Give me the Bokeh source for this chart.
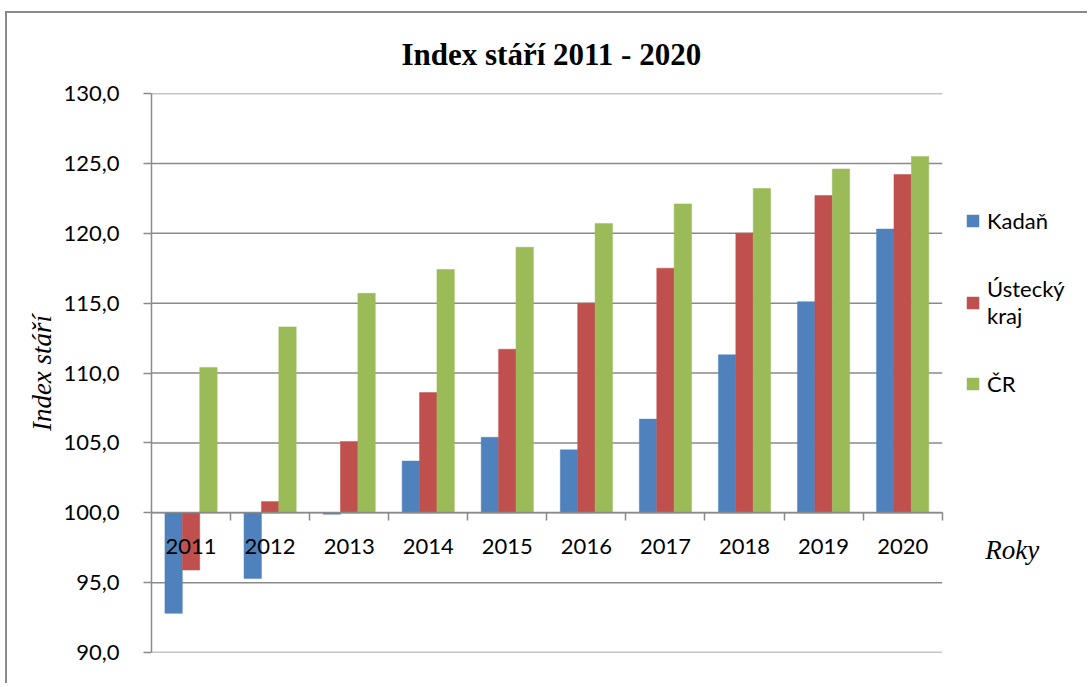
from bokeh.plotting import figure
from bokeh.models import (ColumnDataSource, Range1d, LinearAxis, FixedTicker,
                          Legend, LegendItem, Label)
from bokeh.transform import dodge
from bokeh.embed import file_html
from bokeh.resources import INLINE

# ---- data ----
years = ["2011", "2012", "2013", "2014", "2015", "2016", "2017", "2018", "2019", "2020"]
kadan = [92.8, 95.3, 99.9, 103.7, 105.4, 104.5, 106.7, 111.3, 115.1, 120.3]
ustecky = [95.9, 100.8, 105.1, 108.6, 111.7, 115.0, 117.5, 120.0, 122.7, 124.2]
cr = [110.4, 113.3, 115.7, 117.4, 119.0, 120.7, 122.1, 123.2, 124.6, 125.5]
series_names = ["Kadaň", "Ústecký\nkraj", "ČR"]
colors = ["#4F81BD", "#C0504D", "#9BBB59"]
y_ticks = [90, 95, 100, 105, 110, 115, 120, 125, 130]
y_tick_labels = ["90,0", "95,0", "100,0", "105,0", "110,0", "115,0", "120,0", "125,0", "130,0"]
baseline = 100
title_text = "Index stáří 2011 - 2020"
x_title = "Roky"
y_title = "Index stáří"

GRAY = "#8a8a8a"
SANS = "Lato"
SERIF = "Liberation Serif"

n = len(years)
xs = [i + 0.5 for i in range(n)]
src = ColumnDataSource(dict(x=xs, year=years, kadan=kadan, ustecky=ustecky, cr=cr))

# layout: category area 789px wide, frame extends to the right to hold legend
W, H = 1080, 670
ML, MT, MB, MR = 144, 80, 33, 7
cat_px = 789.0
frame_px = W - ML - MR
x_end = n * frame_px / cat_px

p = figure(width=W, height=H, output_backend="svg", toolbar_location=None,
           x_range=Range1d(0, x_end), y_range=Range1d(90, 130),
           x_axis_type=None, min_border_left=ML, min_border_top=MT,
           min_border_right=MR, min_border_bottom=MB)
p.styles = {"border-top": f"2px solid {GRAY}", "border-left": f"2px solid {GRAY}",
            "position": "relative", "top": "11px", "left": "5px",
            "box-sizing": "content-box"}
p.outline_line_color = None
p.background_fill_color = "white"
p.border_fill_color = "white"

# title
p.title.text = title_text
p.title.text_font = SERIF
p.title.text_font_size = "31px"
p.title.text_font_style = "bold"
p.title.align = "left"
p.title.offset = 250
p.title.standoff = 43
p.title.text_color = "black"

# y axis
yax = p.yaxis[0]
yax.ticker = FixedTicker(ticks=y_ticks)
yax.major_label_overrides = dict(zip(y_ticks, y_tick_labels))
yax.axis_line_color = GRAY
yax.axis_line_width = 1.5
yax.major_tick_line_color = GRAY
yax.major_tick_line_width = 1.5
yax.major_tick_out = 8
yax.major_tick_in = 0
yax.minor_tick_line_color = None
yax.major_label_standoff = 24
yax.major_label_text_font = SANS
yax.major_label_text_font_size = "22px"
yax.major_label_text_color = "black"
yax.axis_label = y_title
yax.axis_label_text_font = SERIF
yax.axis_label_text_font_style = "italic"
yax.axis_label_text_font_size = "27px"
yax.axis_label_text_color = "black"
yax.axis_label_standoff = 3

p.ygrid.visible = False
grid_src = ColumnDataSource(dict(y=y_ticks))
p.segment(x0=0, x1=n, y0="y", y1="y", source=grid_src, line_color=GRAY, line_width=1.5)

# x axis crossing at 100
bounds = [float(i) for i in range(1, n + 1)]
xax = LinearAxis(fixed_location=baseline, bounds=(0, n),
                 ticker=FixedTicker(ticks=xs, minor_ticks=bounds),
                 major_label_overrides=dict(zip(xs, years)))
xax.axis_line_color = GRAY
xax.axis_line_width = 1.5
xax.major_tick_out = 0
xax.major_tick_in = 0
xax.minor_tick_out = 8
xax.minor_tick_in = 0
xax.minor_tick_line_color = GRAY
xax.minor_tick_line_width = 1.5
xax.major_label_standoff = 18
xax.major_label_text_font = SANS
xax.major_label_text_font_size = "22px"
xax.major_label_text_color = "black"
p.add_layout(xax, "below")

# bars
w = 0.22
cols = ["kadan", "ustecky", "cr"]
renderers = []
for k, (col, color) in enumerate(zip(cols, colors)):
    r = p.vbar(x=dodge("x", (k - 1) * w, range=p.x_range), top=col, bottom=baseline,
               width=w, source=src, fill_color=color, line_color=color, line_width=0.5)
    renderers.append(r)

legend = Legend(items=[LegendItem(label=nm, renderers=[r]) for nm, r in zip(series_names, renderers)],
                location=(814, 255), orientation="vertical")
legend.border_line_color = None
legend.background_fill_alpha = 0
legend.padding = 0
legend.margin = 0
legend.spacing = 41
legend.glyph_width = 15
legend.glyph_height = 15
legend.label_standoff = 7
legend.label_text_font = SANS
legend.label_text_font_size = "22px"
legend.label_text_line_height = 1.5
legend.label_text_color = "black"
p.add_layout(legend, "center")

p.add_layout(Label(x=10.545, y=97.32, text=x_title, text_font=SERIF,
                   text_font_style="italic", text_font_size="27px",
                   text_baseline="middle", text_align="left", text_color="black"))

open("out.html", "w").write(file_html(p, INLINE))
